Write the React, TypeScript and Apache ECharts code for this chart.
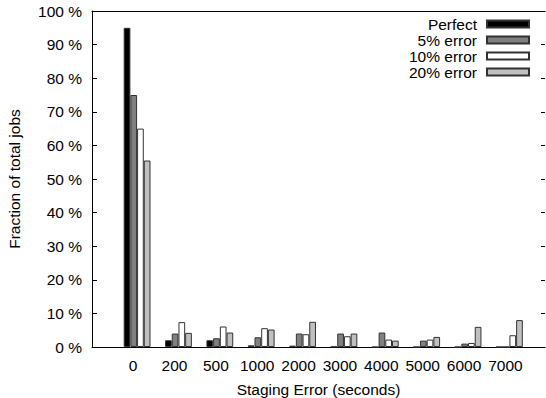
import React, { useEffect, useRef } from "react";
import * as echarts from "echarts";

const categories = ["0", "200", "500", "1000", "2000", "3000", "4000", "5000", "6000", "7000"];
const seriesNames = ["Perfect", "5% error", "10% error", "20% error"];
const perfect = [95, 2.0, 2.0, 0.5, 0.4, 0.1, 0, 0, 0, 0];
const err5 = [75, 4.0, 2.6, 2.9, 4.0, 4.0, 4.3, 1.9, 1.0, 0];
const err10 = [65, 7.4, 6.1, 5.6, 3.8, 3.2, 2.2, 2.2, 1.2, 3.5];
const err20 = [55.5, 4.2, 4.3, 5.2, 7.5, 4.0, 1.9, 3.0, 6.0, 8.0];
const yTicks = [0, 10, 20, 30, 40, 50, 60, 70, 80, 90, 100];

const colors = ["#000000", "#808080", "#ffffff", "#c0c0c0"];
const FONT = "'Liberation Sans', Arial, Helvetica, sans-serif";
const FS = 15.5;

export default function App() {
  const ref = useRef<HTMLDivElement>(null);
  useEffect(() => {
    if (!ref.current) return;
    const chart = echarts.init(ref.current, null, { renderer: "svg" });
    const all = [perfect, err5, err10, err20];
    const idx = categories.map((_, i) => i);
    chart.setOption({
      animation: false,
      textStyle: { fontFamily: FONT, color: "#000" },
      grid: { left: 92, right: 1, top: 11, bottom: 51, containLabel: false, outerBoundsMode: "none" },
      legend: {
        orient: "vertical",
        right: 16,
        top: 16,
        padding: 0,
        align: "right",
        icon: "rect",
        itemWidth: 42,
        itemHeight: 7,
        itemGap: 0,
        textStyle: { fontFamily: FONT, fontSize: FS, color: "#000", lineHeight: 16, padding: [0, 5, 0, 0] },
        data: seriesNames,
      },
      xAxis: [
        {
          type: "value",
          min: -1.09,
          max: 9.86,
          splitLine: { show: false },
          axisTick: { show: false },
          axisLine: { show: true, onZero: false, lineStyle: { color: "#000", width: 1 } },
          axisLabel: {
            customValues: idx,
            formatter: (v: number) => {
              const i = Math.round(v);
              return Math.abs(v - i) < 1e-6 && categories[i] !== undefined ? categories[i] : "";
            },
            fontFamily: FONT,
            fontSize: FS,
            color: "#000",
            margin: 10,
            padding: [0, 8, 0, 0],
          },
          name: "Staging Error (seconds)",
          nameLocation: "middle",
          nameGap: 34,
          nameTextStyle: { fontFamily: FONT, fontSize: FS, color: "#000" },
        },
        {
          type: "value",
          position: "top",
          min: -1.09,
          max: 9.86,
          splitLine: { show: false },
          axisTick: { show: false },
          axisLabel: { show: false },
          axisLine: { show: true, onZero: false, lineStyle: { color: "#000", width: 1 } },
        },
      ],
      yAxis: [
        {
          type: "value",
          min: 0,
          max: 100,
          interval: 10,
          splitLine: { show: false },
          axisLine: { show: true, onZero: false, lineStyle: { color: "#000", width: 1 } },
          axisTick: { show: true, inside: true, length: 5, lineStyle: { color: "#000" } },
          axisLabel: {
            formatter: (v: number) => (yTicks.includes(v) ? `${v} %` : ""),
            fontFamily: FONT,
            fontSize: FS,
            color: "#000",
            margin: 10,
          },
          name: "Fraction of total jobs",
          nameLocation: "middle",
          nameGap: 70,
          nameTextStyle: { fontFamily: FONT, fontSize: FS, color: "#000" },
        },
        {
          type: "value",
          position: "right",
          min: 0,
          max: 100,
          interval: 10,
          splitLine: { show: false },
          axisLine: { show: false, onZero: false },
          axisTick: { show: true, inside: true, length: 4, lineStyle: { color: "#000" } },
          axisLabel: { show: false },
        },
      ],
      series: all.map((vals, s) => ({
        name: seriesNames[s],
        type: "bar",
        xAxisIndex: 0,
        yAxisIndex: 0,
        barWidth: 6.7,
        barGap: "0%",
        itemStyle: { color: colors[s], borderColor: "#333", borderWidth: 1 },
        data: vals.map((v, i) => [i, v]),
      })),
    });
    return () => chart.dispose();
  }, []);
  return <div ref={ref} style={{ width: 546, height: 398, position: "absolute", left: 0, top: 0 }} />;
}
